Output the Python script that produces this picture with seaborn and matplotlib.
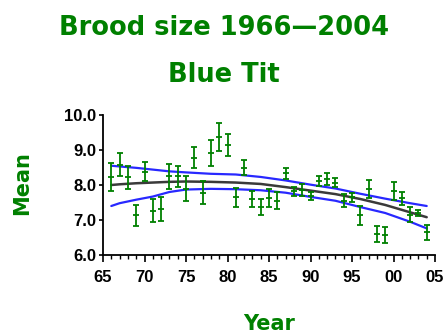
import matplotlib
matplotlib.use("Agg")
import matplotlib.pyplot as plt
import seaborn as sns
import numpy as np
import pandas as pd
from matplotlib.ticker import MultipleLocator, FixedLocator, FixedFormatter

# ---- data ----
years = [1966, 1967, 1968, 1969, 1970, 1971, 1972, 1973, 1974, 1975,
         1976, 1977, 1978, 1979, 1980, 1981, 1982, 1983, 1984, 1985,
         1986, 1987, 1988, 1989, 1990, 1991, 1992, 1993, 1994, 1995,
         1996, 1997, 1998, 1999, 2000, 2001, 2002, 2003, 2004]
means = [8.22, 8.58, 8.22, 7.14, 8.38, 7.27, 7.32, 8.25, 8.25, 7.90,
         8.78, 7.78, 8.92, 9.37, 9.15, 7.65, 8.50, 7.60, 7.37, 7.63,
         7.55, 8.34, 7.82, 7.86, 7.68, 8.12, 8.16, 8.07, 7.55, 7.65,
         7.13, 7.88, 6.60, 6.57, 7.84, 7.62, 7.15, 7.20, 6.65]
errs = [0.40, 0.33, 0.32, 0.30, 0.28, 0.34, 0.34, 0.35, 0.30, 0.35,
        0.30, 0.33, 0.37, 0.40, 0.32, 0.27, 0.22, 0.22, 0.24, 0.26,
        0.24, 0.16, 0.12, 0.16, 0.12, 0.15, 0.17, 0.14, 0.18, 0.13,
        0.28, 0.26, 0.24, 0.24, 0.26, 0.19, 0.22, 0.09, 0.22]

fit_years = [1966, 1967, 1969, 1971, 1973, 1975, 1978, 1981, 1984, 1987,
             1990, 1993, 1996, 1999, 2002, 2004]
fit_mid = [8.00, 8.02, 8.05, 8.07, 8.09, 8.10, 8.09, 8.07, 8.03, 7.94,
           7.84, 7.74, 7.60, 7.43, 7.22, 7.08]
fit_upper = [8.55, 8.53, 8.49, 8.44, 8.39, 8.36, 8.32, 8.30, 8.23, 8.13,
             8.01, 7.90, 7.75, 7.61, 7.48, 7.40]
fit_lower = [7.40, 7.48, 7.58, 7.67, 7.80, 7.87, 7.89, 7.88, 7.85, 7.78,
             7.66, 7.55, 7.37, 7.20, 6.95, 6.76]

x_ticks = [1965, 1970, 1975, 1980, 1985, 1990, 1995, 2000, 2005]
x_tick_labels = ["65", "70", "75", "80", "85", "90", "95", "00", "05"]
y_ticks = [6.0, 7.0, 8.0, 9.0, 10.0]
y_tick_labels = ["6.0", "7.0", "8.0", "9.0", "10.0"]

title1 = "Brood size 1966\u20142004"
title2 = "Blue Tit"

GREEN = "#008000"
BLUE = "#2828ff"
DARK = "#3a3a3a"

sns.set_style("ticks")
plt.rcParams["font.family"] = ["DejaVu Sans"]

df = pd.DataFrame({"year": years, "mean": means, "err": errs})
fit = pd.DataFrame({"year": fit_years, "mid": fit_mid,
                    "upper": fit_upper, "lower": fit_lower})

fig = plt.figure(figsize=(4.48, 3.33), dpi=100)
ax = fig.add_axes([103 / 448, 1 - 255 / 333, 332 / 448, 140 / 333])

sns.lineplot(data=fit, x="year", y="upper", ax=ax, color=BLUE, lw=1.6)
sns.lineplot(data=fit, x="year", y="lower", ax=ax, color=BLUE, lw=1.6)
sns.lineplot(data=fit, x="year", y="mid", ax=ax, color=DARK, lw=1.8)

ax.errorbar(df["year"], df["mean"], yerr=df["err"], fmt="_", color=GREEN,
            ecolor=GREEN, elinewidth=1.3, capsize=2.4, capthick=1.3,
            markersize=4.5, markeredgewidth=1.3, zorder=5)

ax.set_xlim(1965, 2005)
ax.set_ylim(6.0, 10.0)
ax.xaxis.set_major_locator(FixedLocator(x_ticks))
ax.xaxis.set_major_formatter(FixedFormatter(x_tick_labels))
ax.xaxis.set_minor_locator(MultipleLocator(1))
ax.yaxis.set_major_locator(FixedLocator(y_ticks))
ax.yaxis.set_major_formatter(FixedFormatter(y_tick_labels))

tick_font = dict(family=["Liberation Sans", "DejaVu Sans"], weight="bold", size=12)
for lab in ax.get_xticklabels() + ax.get_yticklabels():
    lab.set_fontfamily(tick_font["family"])
    lab.set_fontweight("bold")
    lab.set_fontsize(12)
    lab.set_color("black")

ax.tick_params(axis="x", which="major", direction="out", length=5, width=1.2, pad=6, colors="black")
ax.tick_params(axis="x", which="minor", direction="out", length=2.8, width=1.0, colors="black")
ax.tick_params(axis="y", which="major", direction="out", length=3, width=1.2, pad=2, colors="black")

for side in ["top", "right"]:
    ax.spines[side].set_visible(False)
for side in ["left", "bottom"]:
    ax.spines[side].set_linewidth(1.3)
    ax.spines[side].set_color("black")

ax.set_xlabel("")
ax.set_ylabel("")
fig.text(269.5 / 448, 1 - 330 / 333, "Year", ha="center", va="baseline",
         color=GREEN, fontsize=15, fontweight="bold")
fig.text(22 / 448, 1 - 183 / 333, "Mean", ha="center", va="center", rotation=90,
         color=GREEN, fontsize=15, fontweight="bold")

fig.text(0.5, 1 - 35 / 333, title1, ha="center", va="baseline",
         color=GREEN, fontsize=18.5, fontweight="bold")
fig.text(0.5, 1 - 82 / 333, title2, ha="center", va="baseline",
         color=GREEN, fontsize=18.5, fontweight="bold")

fig.savefig("out.png", dpi=100)
